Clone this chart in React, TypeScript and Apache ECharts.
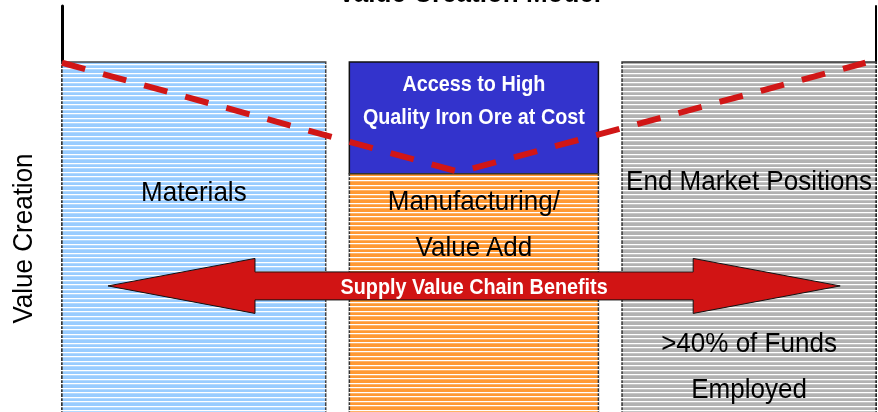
import React, { useEffect, useRef } from 'react';
import * as echarts from 'echarts';

// ---- data ----
const segmentNames = ['Materials', 'Access to High Quality Iron Ore at Cost', 'Manufacturing/ Value Add', 'End Market Positions'];
const segmentStart = [0, 35.3, 35.3, 68.8];
const segmentEnd = [32.4, 65.9, 65.9, 100];
const segmentLow = [0, 61, 0, 0];
const segmentHigh = [87, 87, 61, 87];

const valueLineX = [0, 48.8, 98.7];
const valueLineY = [86.8, 61.4, 86.8];

const arrowFrom = 5.65;
const arrowTo = 95.6;
const arrowLevel = 34.9;
const arrowText = 'Supply Value Chain Benefits';

const labelSegment = [0, 1, 2, 3, 3];
const labelLines = [
  ['Materials'],
  ['Access to High', 'Quality Iron Ore at Cost'],
  ['Manufacturing/', 'Value Add'],
  ['End Market Positions'],
  ['>40% of Funds', 'Employed'],
];

const titleText = 'Value Creation Model';
const yAxisTitle = 'Value Creation';

// ---- styles / layout ----
const FONT = '"Liberation Sans", Arial, sans-serif';
const SEG_STYLE = [
  { fill: '#99CCFF', stroke: '#444', striped: true },
  { fill: '#3333CC', stroke: '#111', striped: false },
  { fill: '#FF9933', stroke: '#333', striped: true },
  { fill: '#B2B2B2', stroke: '#333', striped: true },
];
const LABEL_LAYOUT = [
  { offset: 129.7, lineHeight: 46, color: '#000', weight: 'normal', size: 28, scale: 0.93 },
  { offset: 20.8, lineHeight: 33.4, color: '#fff', weight: 'bold', size: 22, scale: 0.9 },
  { offset: 26.7, lineHeight: 45.8, color: '#000', weight: 'normal', size: 28, scale: 0.93 },
  { offset: 119.2, lineHeight: 46, color: '#000', weight: 'normal', size: 28, scale: 0.93 },
  { offset: 280.8, lineHeight: 46, color: '#000', weight: 'normal', size: 28, scale: 0.93 },
];
const ARROW = { headLen: 147, headHalf: 27.5, shaftHalf: 14, fill: '#D11414' };
const RED = '#D11616';

export default function App() {
  const ref = useRef<HTMLDivElement>(null);
  useEffect(() => {
    if (!ref.current) return;
    const chart = echarts.init(ref.current, null, { renderer: 'svg' });

    const barData = segmentNames.map((n, i) => ({
      name: n,
      value: [segmentStart[i], segmentEnd[i], segmentLow[i], segmentHigh[i]],
    }));

    const labelData = labelSegment.map((s, i) => ({
      name: labelLines[i].join(' '),
      value: [segmentStart[s], segmentEnd[s], segmentHigh[s]],
    }));

    const option: any = {
      animation: false,
      graphic: [
        {
          type: 'text',
          x: 469.5,
          y: 22.5,
          scaleX: 0.93,
          style: {
            text: titleText,
            font: `bold 28px ${FONT}`,
            fill: '#000',
            textAlign: 'center',
            textVerticalAlign: 'middle',
          },
        },
        {
          type: 'text',
          x: 23,
          y: 268.5,
          rotation: Math.PI / 2,
          scaleX: 0.93,
          style: {
            text: yAxisTitle,
            font: `28px ${FONT}`,
            fill: '#000',
            textAlign: 'center',
            textVerticalAlign: 'middle',
          },
        },
      ],
      grid: { left: 62, right: 2, top: 36, bottom: 14 },
      xAxis: { type: 'value', min: 0, max: 100, show: false },
      yAxis: [
        {
          type: 'value',
          min: 0,
          max: 100,
          axisLine: { show: true, lineStyle: { color: '#000', width: 3 } },
          axisTick: { show: false },
          axisLabel: { show: false },
          splitLine: { show: false },
        },
        {
          type: 'value',
          position: 'right',
          min: 0,
          max: 100,
          axisLine: { show: true, lineStyle: { color: '#000', width: 2 } },
          axisTick: { show: false },
          axisLabel: { show: false },
          splitLine: { show: false },
        },
      ],
      series: [
        {
          type: 'custom',
          name: 'segments',
          z: 2,
          clip: false,
          data: barData,
          renderItem: (params: any, api: any) => {
            const i = params.dataIndex;
            const st = SEG_STYLE[i];
            const p0 = api.coord([api.value(0), api.value(3)]);
            const p1 = api.coord([api.value(1), api.value(2)]);
            const x = p0[0];
            const y = p0[1];
            const w = p1[0] - p0[0];
            const h = p1[1] - p0[1];
            const children: any[] = [
              {
                type: 'rect',
                shape: { x, y, width: w, height: h },
                style: { fill: st.fill, stroke: st.stroke, lineWidth: 1.5 },
              },
            ];
            if (st.striped) {
              for (let k = 0; y + 2 + k * 4.5 < y + h; k++) {
                const yy = Math.round(y + 2 + k * 4.5);
                children.push({
                  type: 'rect',
                  shape: { x: x - 1, y: yy, width: w + 2, height: 1.3 },
                  style: { fill: '#ffffff' },
                  silent: true,
                });
              }
            }
            return { type: 'group', children };
          },
        },
        {
          type: 'line',
          name: 'value line',
          z: 4,
          symbol: 'none',
          data: valueLineX.map((x, i) => [x, valueLineY[i]]),
          lineStyle: { color: RED, width: 6, type: [24, 18.6], cap: 'butt' },
        },
        {
          type: 'custom',
          name: 'arrow',
          z: 3,
          clip: false,
          data: [[arrowFrom, arrowTo, arrowLevel]],
          renderItem: (params: any, api: any) => {
            const L = api.coord([api.value(0), api.value(2)]);
            const R = api.coord([api.value(1), api.value(2)]);
            const cy = L[1];
            const lx = L[0];
            const rx = R[0];
            const { headLen, headHalf, shaftHalf } = ARROW;
            const pts = [
              [lx, cy],
              [lx + headLen, cy - headHalf],
              [lx + headLen, cy - shaftHalf],
              [rx - headLen, cy - shaftHalf],
              [rx - headLen, cy - headHalf],
              [rx, cy],
              [rx - headLen, cy + headHalf],
              [rx - headLen, cy + shaftHalf],
              [lx + headLen, cy + shaftHalf],
              [lx + headLen, cy + headHalf],
            ];
            return {
              type: 'group',
              children: [
                {
                  type: 'polygon',
                  shape: { points: pts },
                  style: { fill: ARROW.fill, stroke: '#111', lineWidth: 1 },
                },
                {
                  type: 'text',
                  x: (lx + rx) / 2,
                  y: cy,
                  scaleX: 0.9,
                  style: {
                    text: arrowText,
                    font: `bold 22px ${FONT}`,
                    fill: '#fff',
                    textAlign: 'center',
                    textVerticalAlign: 'middle',
                  },
                },
              ],
            };
          },
        },
        {
          type: 'custom',
          name: 'labels',
          z: 5,
          clip: false,
          data: labelData,
          renderItem: (params: any, api: any) => {
            const i = params.dataIndex;
            const lay = LABEL_LAYOUT[i];
            const a = api.coord([api.value(0), api.value(2)]);
            const b = api.coord([api.value(1), api.value(2)]);
            const cx = (a[0] + b[0]) / 2;
            const top = a[1];
            return {
              type: 'group',
              children: labelLines[i].map((t, k) => ({
                type: 'text',
                x: cx,
                y: top + lay.offset + k * lay.lineHeight,
                scaleX: lay.scale,
                style: {
                  text: t,
                  font: `${lay.weight} ${lay.size}px ${FONT}`,
                  fill: lay.color,
                  textAlign: 'center',
                  textVerticalAlign: 'middle',
                },
              })),
            };
          },
        },
      ],
    };
    chart.setOption(option);
    return () => chart.dispose();
  }, []);
  return (
    <div
      ref={ref}
      style={{ position: 'fixed', left: 0, top: -30, width: 878, height: 480 }}
    />
  );
}
